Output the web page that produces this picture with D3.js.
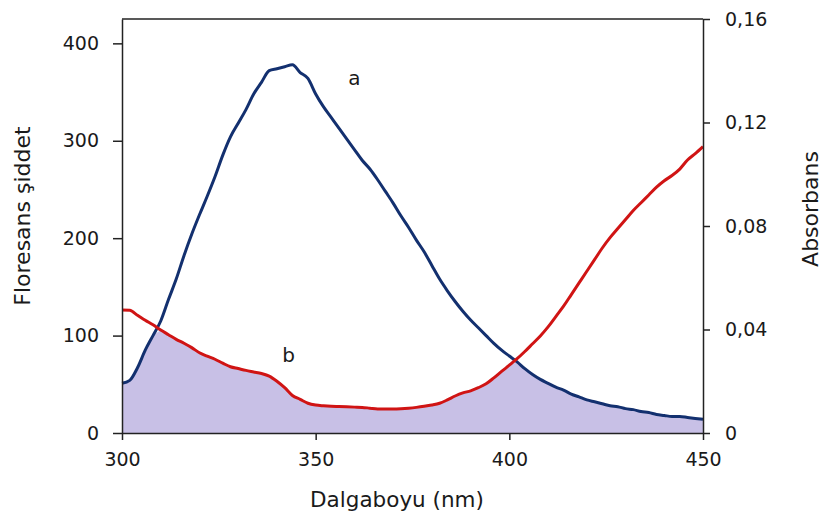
<!DOCTYPE html>
<html>
<head>
<meta charset="utf-8">
<script src="https://cdn.jsdelivr.net/npm/d3@7"></script>
<style>
  body { margin: 0; background: #fff; }
  text { font-family: "DejaVu Sans", sans-serif; fill: #1a1a1a; }
</style>
</head>
<body>
<div class="container"></div>
<script>
const WIDTH = 822;
const HEIGHT = 521;
const LEFT = 122, RIGHT = 703, TOP = 19, BOTTOM = 433;

// wavelength (nm)
const wavelengths = [300,302,304,306,308,310,312,314,316,318,320,322,324,326,328,330,332,334,336,338,
  340,342,344,346,348,350,352,354,356,358,360,362,364,366,368,370,372,374,376,378,
  380,382,384,386,388,390,392,394,396,398,400,402,404,406,408,410,412,414,416,418,
  420,422,424,426,428,430,432,434,436,438,440,442,444,446,448,450];

// a: fluorescence intensity (left axis)
const fluorescence = [51,54,67,85,100,115,137,158,182,204,224,243,263,285,304,318,332,348,360,372,
  374,376,378,370,364,348,335,324,313,302,291,280,271,260,248,236,223,211,198,186,
  172,158,146,135,125,116,108,100,92,85,79,73,66,60,55,51,47,44,40,37,
  34,32,30,28,27,25,24,22,21,19,18,17,17,16,15,14];

// b: absorbance (right axis)
const absorbance = [0.0475,0.0474,0.0455,0.0436,0.0418,0.0398,0.0380,0.0362,0.0347,0.0330,
  0.0310,0.0297,0.0285,0.0270,0.0256,0.0249,0.0242,0.0236,0.0230,0.0220,
  0.0200,0.0175,0.0145,0.0130,0.0115,0.0108,0.0105,0.0103,0.0102,0.0101,
  0.0100,0.0099,0.0096,0.0093,0.0093,0.0093,0.0094,0.0096,0.0099,0.0103,
  0.0108,0.0115,0.0128,0.0143,0.0155,0.0163,0.0175,0.0190,0.0213,0.0238,
  0.0262,0.0287,0.0315,0.0345,0.0375,0.0410,0.0450,0.0490,0.0535,0.0580,
  0.0625,0.0670,0.0715,0.0755,0.0790,0.0825,0.0860,0.0890,0.0920,0.0950,
  0.0975,0.0995,0.1020,0.1055,0.1080,0.1107];

const xTicks = [300, 350, 400, 450];
const leftTicks = [0, 100, 200, 300, 400];
const rightTicks = [0, 0.04, 0.08, 0.12, 0.16];

const xScale = d3.scaleLinear().domain([300, 450]).range([LEFT, RIGHT]);
const yLeft = d3.scaleLinear().domain([0, 425]).range([BOTTOM, TOP]);
const yRight = d3.scaleLinear().domain([0, 0.16]).range([BOTTOM, TOP]);

const trLocale = d3.formatLocale({decimal: ",", thousands: ".", grouping: [3], currency: ["", ""]});
const fmtRight = function(d) { return d === 0 ? "0" : trLocale.format(".2f")(d); };

const points = wavelengths.map(function(w, i) {
  return {x: w, f: fluorescence[i], a: absorbance[i]};
});

const svg = d3.select('.container').append('svg')
  .attr('width', WIDTH)
  .attr('height', HEIGHT);

// overlap area under both curves
const area = d3.area()
  .x(function(d) { return xScale(d.x); })
  .y0(BOTTOM)
  .y1(function(d) { return Math.max(yLeft(d.f), yRight(d.a)); });

svg.append('path')
  .datum(points)
  .attr('d', area)
  .attr('fill', '#c8c0e6');

const lineF = d3.line()
  .x(function(d) { return xScale(d.x); })
  .y(function(d) { return yLeft(d.f); })
  .curve(d3.curveMonotoneX);

const lineA = d3.line()
  .x(function(d) { return xScale(d.x); })
  .y(function(d) { return yRight(d.a); })
  .curve(d3.curveMonotoneX);

svg.append('path').datum(points).attr('d', lineF)
  .attr('fill', 'none').attr('stroke', '#13306f').attr('stroke-width', 3)
  .attr('stroke-linejoin', 'round');

svg.append('path').datum(points).attr('d', lineA)
  .attr('fill', 'none').attr('stroke', '#d01414').attr('stroke-width', 3)
  .attr('stroke-linejoin', 'round');

// top border
svg.append('line')
  .attr('x1', LEFT).attr('x2', RIGHT).attr('y1', TOP).attr('y2', TOP)
  .attr('stroke', '#222').attr('stroke-width', 1.5);

const xAxis = d3.axisBottom(xScale).tickValues(xTicks).tickSize(7).tickPadding(13).tickSizeOuter(0);
const leftAxis = d3.axisLeft(yLeft).tickValues(leftTicks).tickSize(9).tickPadding(14).tickSizeOuter(0);
const rightAxis = d3.axisRight(yRight).tickValues(rightTicks).tickSize(7).tickPadding(15)
  .tickSizeOuter(0).tickFormat(fmtRight);

function styleAxis(g) {
  g.selectAll('path, line').attr('stroke', '#222').attr('stroke-width', 1.5);
  g.selectAll('text').attr('font-size', 19).attr('fill', '#1a1a1a');
}

svg.append('g').attr('transform', 'translate(0,' + BOTTOM + ')').call(xAxis).call(styleAxis)
  .attr('font-family', null);
svg.append('g').attr('transform', 'translate(' + LEFT + ',0)').call(leftAxis).call(styleAxis)
  .attr('font-family', null);
svg.append('g').attr('transform', 'translate(' + RIGHT + ',0)').call(rightAxis).call(styleAxis)
  .attr('font-family', null);

// axis titles
svg.append('text')
  .attr('x', 397).attr('y', 507)
  .attr('text-anchor', 'middle').attr('font-size', 21.5)
  .text('Dalgaboyu (nm)');

svg.append('text')
  .attr('transform', 'translate(30,216) rotate(-90)')
  .attr('text-anchor', 'middle').attr('font-size', 22)
  .text('Floresans şiddet');

svg.append('text')
  .attr('transform', 'translate(818,209) rotate(-90)')
  .attr('text-anchor', 'middle').attr('font-size', 22)
  .text('Absorbans');

// series labels
svg.append('text').attr('x', xScale(360)).attr('y', 85)
  .attr('text-anchor', 'middle').attr('font-size', 20).text('a');
svg.append('text').attr('x', xScale(343)).attr('y', 362)
  .attr('text-anchor', 'middle').attr('font-size', 20).text('b');
</script>
</body>
</html>
